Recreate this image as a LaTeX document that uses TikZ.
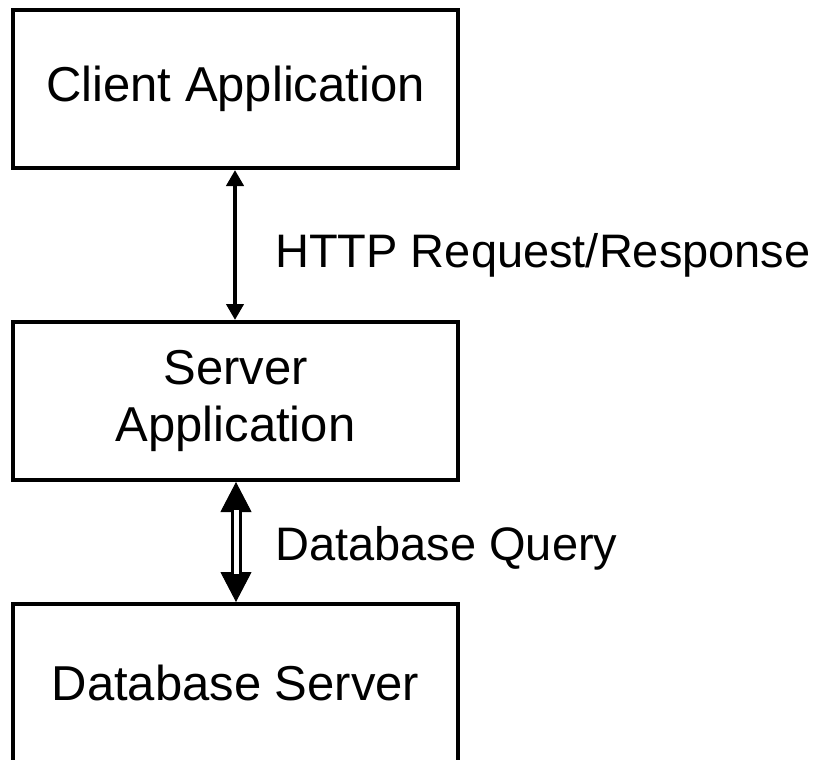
\documentclass[tikz,border=0pt]{standalone}
\usepackage{fontspec}
\setmainfont{Liberation Sans}
\usetikzlibrary{arrows.meta}
\begin{document}
\begin{tikzpicture}[x=1pt,y=-1pt,
  block/.style={draw, line width=4pt, minimum width=445pt, minimum height=158pt,
    inner sep=0pt, align=center, font=\fontsize{49}{57}\selectfont},
  lbl/.style={anchor=base west, inner sep=0pt, font=\fontsize{47}{57}\selectfont},
  thinlink/.style={line width=4pt, {Triangle[width=17pt,length=16pt]}-{Triangle[width=17pt,length=16pt]}},
  headpair/.style={line width=1pt, {Triangle[width=31pt,length=30pt]}-{Triangle[width=31pt,length=30pt]}},
  dbllink/.style={line width=3pt, double, double distance=5pt, shorten <=28pt, shorten >=28pt}]
  \useasboundingbox (0,0) rectangle (823,760);
  \begin{scope}
    \clip (0,0) rectangle (823,760);
    % the three tiers
    \node[block] (client) at (235.5,89) {Client Application};
    \node[block] (server) at (235.5,401) {Server\\Application};
    \node[block] (db) at (235.5,683) {Database Server};
  \end{scope}
  % client <-> server
  \draw[thinlink] (client.south -| 235,0) -- (server.north -| 235,0);
  % server <-> database: solid heads under a hollow double shaft
  \draw[headpair] (server.south -| 236,0) -- (db.north -| 236,0);
  \draw[dbllink] (server.south -| 236,0) -- (db.north -| 236,0);
  % connector labels
  \node[lbl] (httplbl) at (275,267) {HTTP Request/Response};
  \node[lbl] (dblbl) at (275,560) {Database Query};
\end{tikzpicture}
\end{document}
